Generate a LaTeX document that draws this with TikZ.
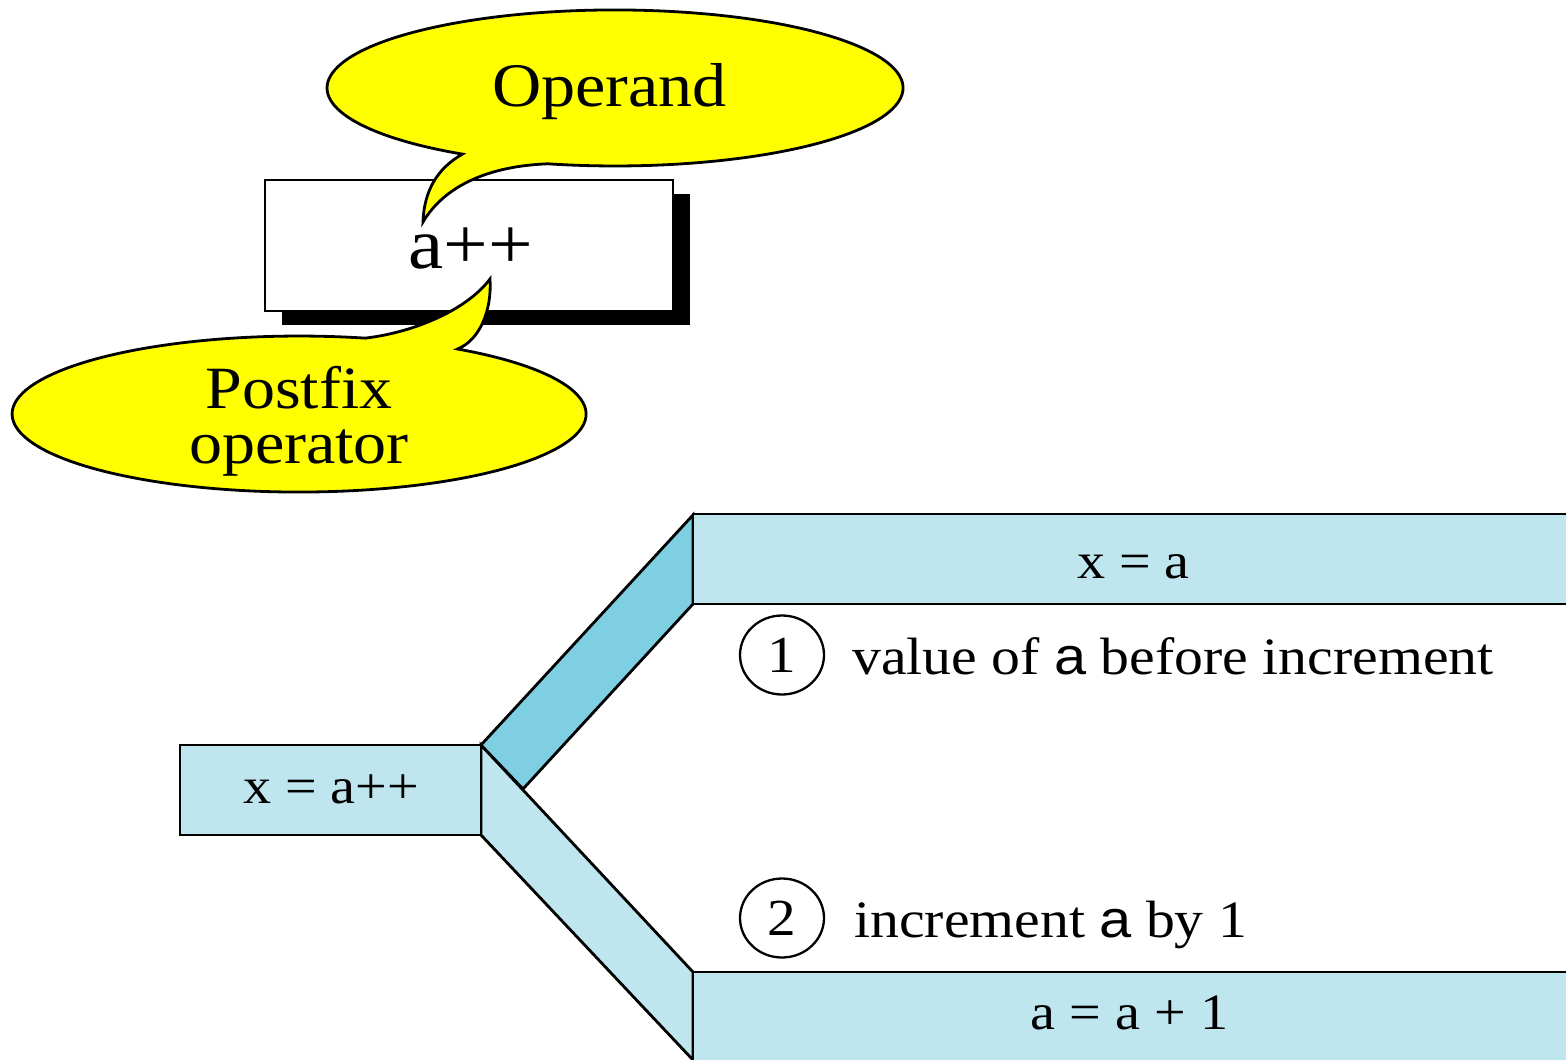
\documentclass[tikz,border=0pt]{standalone}
\usepackage{fontspec}
\setmainfont{Liberation Serif}[FakeStretch=1.1]
\newfontfamily\varsans{Liberation Sans}[FakeStretch=1.1]
\usetikzlibrary{shapes.geometric,shadows}
\definecolor{bubble}{RGB}{255,255,0}
\definecolor{panel}{RGB}{191,230,239}
\definecolor{paneldark}{RGB}{127,207,226}

\begin{document}
\begin{tikzpicture}[x=1pt,y=-1pt,
  outline/.style={draw=black, line width=2.8pt, line join=miter},
  lbl/.style={inner sep=0pt, anchor=base},
  callfont/.style={font=\fontsize{62}{54}\selectfont},
  exprfont/.style={font=\fontsize{72}{80}\selectfont},
  boxfont/.style={font=\fontsize{51}{60}\selectfont},
  notefont/.style={font=\fontsize{52.5}{60}\selectfont},
  stepmark/.style={draw=black, line width=2.3pt, ellipse, inner sep=0pt,
    minimum width=84pt, minimum height=79pt, font=\fontsize{52}{60}\selectfont}]
\clip (0,0) rectangle (1566,1060);

% ---- the expression a++ with its two callouts ----
\node[outline, fill=white, minimum width=408pt, minimum height=131pt, inner sep=0pt,
      drop shadow={shadow xshift=17pt, shadow yshift=-14pt, opacity=1, fill=black}]
      (expr) at (469,245.5) {};
\node[lbl, exprfont] (aplus) at (470.5,268) {a++};

% callout pointing at the operand
\path[outline, fill=bubble]
  (547.8,163.8) arc[start angle=103.5, end angle=-238, x radius=288, y radius=78]
  .. controls (438,168) and (424,190) .. (423,222)
  .. controls (445,185) and (490,166) .. cycle;
\node[lbl, callfont] (operand) at (609.5,106) {Operand};

% callout pointing at the operator
\path[outline, fill=bubble]
  (457.5,349) arc[start angle=-56.5, end angle=283.3, x radius=287, y radius=78]
  .. controls (410,333) and (465,312) .. (490,279)
  .. controls (492,310) and (480,340) .. cycle;
\node[inner sep=0pt, align=center, font=\fontsize{60}{55}\selectfont]
  (postfix) at (299,421.5) {Postfix\\operator};

% ---- evaluation split of x = a++ ----
\coordinate (fork) at (481,745);
\coordinate (forklow) at (481,835);
\coordinate (topin) at (693,515);
\coordinate (topinlow) at (693,604);
\coordinate (botin) at (693,972);
\coordinate (botinlow) at (693,1060);
\coordinate (inner) at (523,789);

% lower branch face
\path[outline, fill=panel] (fork) -- (botin) -- (botinlow) -- (forklow) -- cycle;
% upper branch face
\path[outline, fill=paneldark] (fork) -- (topin) -- (topinlow) -- (inner) -- cycle;

% source statement
\path[outline, fill=panel] (180,745) rectangle (forklow);
\node[lbl, boxfont] (src) at (331,803) {x = a++};

% first result: assignment of the old value
\path[outline, fill=panel] (693,514) rectangle (1610,604);
\node[lbl, boxfont] (assign) at (1133.5,578) {x = a};

% second result: the increment
\path[outline, fill=panel] (693,972) rectangle (1610,1100);
\node[lbl, boxfont] (incr) at (1129.5,1029) {a = a + 1};

% numbered notes
\node[stepmark] (s1) at (782,655) {1};
\node[lbl, anchor=base west, notefont] (n1) at (852,674)
  {value of {\varsans a} before increment};
\node[stepmark] (s2) at (782,918) {2};
\node[lbl, anchor=base west, notefont] (n2) at (854,937)
  {increment {\varsans a} by 1};
\end{tikzpicture}
\end{document}
